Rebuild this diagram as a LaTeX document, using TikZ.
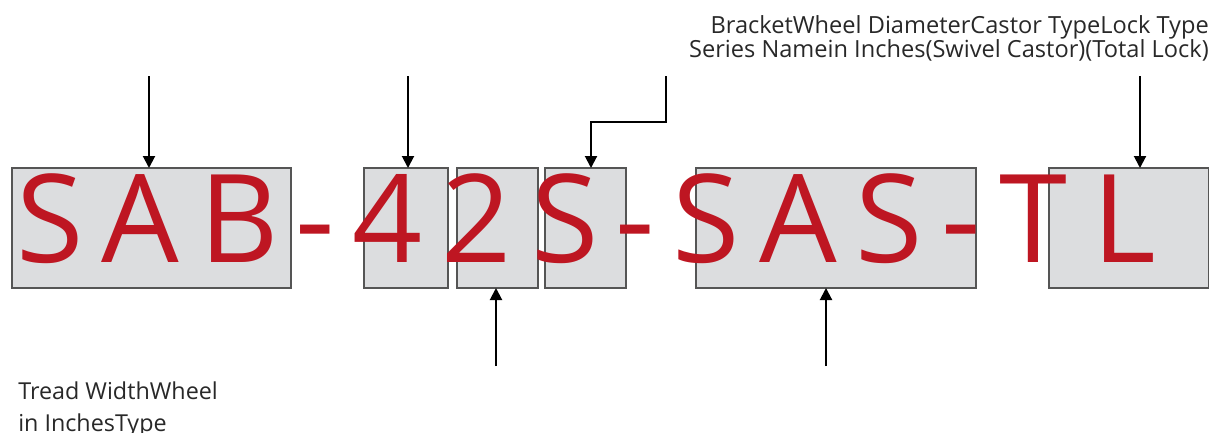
\documentclass[tikz,border=0pt]{standalone}
\usepackage{fontspec}
\setmainfont{Open Sans}
\usepackage{tikz}
\usetikzlibrary{arrows.meta, positioning}
\definecolor{castorred}{RGB}{190, 22, 34}
\definecolor{boxgray}{RGB}{220, 221, 223}
\definecolor{boxedge}{RGB}{85, 85, 85}
\definecolor{darkgray}{RGB}{40, 40, 40}

\begin{document}
\begin{tikzpicture}[x=0.75pt, y=-0.75pt,
  codebox/.style={draw=boxedge, fill=boxgray, line width=0.8pt,
                  inner sep=0pt, outer sep=0pt, minimum height=90pt},
  letter/.style={anchor=base, inner sep=0pt, text=castorred,
                 font=\fontsize{92}{92}\selectfont},
  arr/.style={-{Triangle[length=9pt, width=9pt]}, line width=1.5pt, black},
  lbl/.style={inner sep=0pt, text=darkgray}]
  \useasboundingbox (0,0) rectangle (1209,432);
  % grey fields
  \node[codebox, minimum width=209.25pt] (series) at (151.5,228) {};
  \node[codebox, minimum width=63pt]     (diam)   at (406,228)   {};
  \node[codebox, minimum width=60.75pt]  (width)  at (497.5,228) {};
  \node[codebox, minimum width=60.75pt]  (type)   at (585.5,228) {};
  \node[codebox, minimum width=210pt]    (wheel)  at (836,228)   {};
  \node[codebox, minimum width=120pt]    (lock)   at (1129,228)  {};
  % code letters
  \foreach \ch/\cx [count=\i] in {S/50.5, A/140, B/239, -/315, 4/388, 2/477,
      S/565, -/635, S/706, A/798, S/889, -/961, T/1033, L/1124}
    \node[letter] (c\i) at (\cx,262) {\ch};
  % labels
  \node[lbl, anchor=north east, align=right,
        font=\fontsize{17.7}{18}\selectfont] (toplbl) at (1209,15)
    {BracketWheel DiameterCastor TypeLock Type\\
     Series Namein Inches(Swivel Castor)(Total Lock)};
  \node[lbl, anchor=north west, align=left,
        font=\fontsize{17.5}{24}\selectfont] (botlbl) at (18,381)
    {Tread WidthWheel\\in InchesType};
  % arrows
  \coordinate (s1) at (149,76);
  \coordinate (s2) at (408,76);
  \coordinate (s3) at (666,76);
  \coordinate (s4) at (1140,76);
  \coordinate (e3) at (591,122);
  \coordinate (u1) at (496,366);
  \coordinate (u2) at (826,366);
  \draw[arr] (s1) -- (s1 |- series.north);
  \draw[arr] (s2) -- (s2 |- diam.north);
  \draw[arr] (s3) |- (e3) -- (e3 |- type.north);
  \draw[arr] (s4) -- (s4 |- lock.north);
  \draw[arr] (u1) -- (u1 |- width.south);
  \draw[arr] (u2) -- (u2 |- wheel.south);
\end{tikzpicture}
\end{document}
